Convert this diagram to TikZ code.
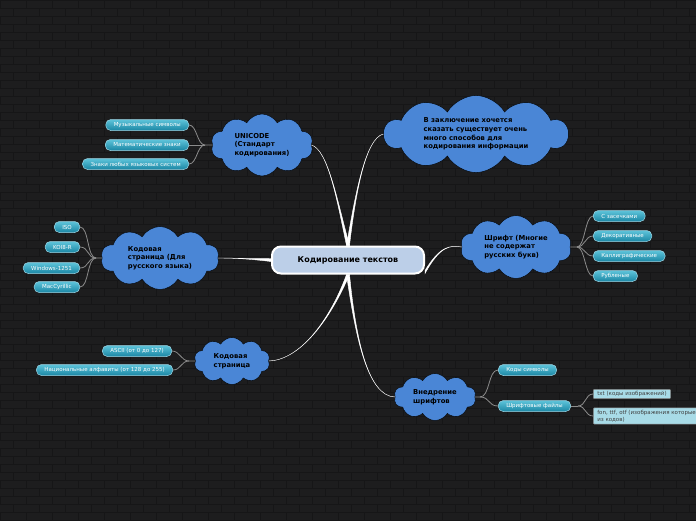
\documentclass[tikz,border=0pt]{standalone}
\usepackage{fontspec}
\setmainfont{DejaVu Sans}
\usetikzlibrary{shapes.symbols}
\definecolor{bgc}{HTML}{1D1D1E}
\definecolor{mortar}{HTML}{161617}
\definecolor{cloudc}{HTML}{4A86D6}
\definecolor{rootc}{HTML}{BCCFE8}
\definecolor{pilltop}{HTML}{5EC4DA}
\definecolor{pillbot}{HTML}{1A86A4}
\definecolor{pilledge}{HTML}{9ED6E6}
\definecolor{notec}{HTML}{A8DBE7}
\definecolor{twigc}{HTML}{8C8C8C}
\tikzset{
  root/.style={rectangle,draw=white,line width=2pt,fill=rootc,rounded corners=9pt,minimum width=152,minimum height=27,font=\fontsize{8}{9}\selectfont\bfseries},
  topic/.style={cloud,cloud puffs=10,cloud puff arc=120,draw=black,fill=cloudc,inner sep=0pt},
  topictext/.style={align=left,inner sep=0pt,font=\fontsize{6.8}{8.7}\selectfont\bfseries},
  leaf/.style={rectangle,rounded corners=5pt,draw=pilledge,line width=0.5pt,top color=pilltop,bottom color=pillbot,text=white,minimum height=11,inner xsep=8pt,inner ysep=0pt,font=\fontsize{5.5}{6}\selectfont},
  note/.style={rectangle,rounded corners=1pt,draw=gray,line width=0.5pt,fill=notec,text=black!75,align=left,inner xsep=4pt,inner ysep=2pt,font=\fontsize{5.5}{7}\selectfont},
  bough/.style={fill=white,draw=white,line width=0.4pt},
  twig/.style={draw=twigc,line width=0.8pt}
}
\begin{document}
\begin{tikzpicture}[x=1pt,y=-1pt]
\useasboundingbox (0,0) rectangle (696,520);
\fill[bgc] (0,0) rectangle (696,520);
\foreach \r in {0,...,65}{
  \draw[mortar,line width=0.8pt] (0,8*\r) -- (696,8*\r);
  \foreach \c in {0,...,27}{
    \draw[mortar,line width=0.8pt] ({26*\c+13*mod(\r,2)},8*\r) -- ++(0,8);
  }
}

\node at (348,260) [root] (root) {Кодирование текстов};
\node at (262,145) [topic,aspect=1.65,minimum width=102,minimum height=62,label={[topictext]center:UNICODE\\(Стандарт\\кодирования)}] (uni) {};
\node at (476,134) [topic,aspect=2.4,minimum width=184,minimum height=77,label={[topictext]center:В заключение хочется\\сказать существует очень\\много способов для\\кодирования информации}] (concl) {};
\node at (160,258) [topic,aspect=1.87,minimum width=118,minimum height=63,label={[topictext]center:Кодовая\\страница (Для\\русского языка)}] (cpru) {};
\node at (516,247) [topic,aspect=1.76,minimum width=111,minimum height=63,label={[topictext]center:Шрифт (Многие\\не содержат\\русских букв)}] (fnt) {};
\node at (232,361) [topic,aspect=1.6,minimum width=76,minimum height=47,label={[topictext]center:Кодовая\\страница}] (cp) {};
\node at (435,397) [topic,aspect=1.75,minimum width=82,minimum height=47,label={[topictext]center:Внедрение\\шрифтов}] (emb) {};

\fill[bough] ([xshift=-1.5pt]root.north) .. controls (337,200) and (328,150) .. (uni.east) .. controls (328,150) and (337,200) .. ([xshift=1.5pt]root.north) -- cycle;
\fill[bough] ([xshift=-1.5pt]root.north) .. controls (356,190) and (366,138) .. (concl.west) .. controls (366,138) and (356,190) .. ([xshift=1.5pt]root.north) -- cycle;
\fill[bough] ([yshift=-1.5pt]root.west) .. controls (250,259) and (235,258) .. (cpru.east) .. controls (235,258) and (250,259) .. ([yshift=1.5pt]root.west) -- cycle;
\fill[bough] ([yshift=-1.5pt,yshift=-12pt]root.east) .. controls (440,246) and (450,245) .. (fnt.west) .. controls (450,245) and (440,246) .. ([yshift=1.5pt,yshift=-12pt]root.east) -- cycle;
\fill[bough] ([xshift=-1.5pt]root.south) .. controls (330,320) and (300,360) .. (cp.east) .. controls (300,360) and (330,320) .. ([xshift=1.5pt]root.south) -- cycle;
\fill[bough] ([xshift=-1.5pt]root.south) .. controls (356,340) and (368,396) .. (emb.west) .. controls (368,396) and (356,340) .. ([xshift=1.5pt]root.south) -- cycle;

\node at (189,125) [leaf,anchor=east] (mus) {Музыкальные символы};
\node at (189,145) [leaf,anchor=east] (math) {Математические знаки};
\node at (189,164) [leaf,anchor=east] (lang) {Знаки любых языковых систем};
\coordinate (juuni) at (205,145);
\draw[twig] (uni.west) -- (juuni);
\draw[twig] (juuni) .. controls +(-8,0) and +(8,0) .. (mus.east);
\draw[twig] (juuni) -- (math.east);
\draw[twig] (juuni) .. controls +(-8,0) and +(8,0) .. (lang.east);

\node at (80,227) [leaf,anchor=east] (iso) {ISO};
\node at (80,247) [leaf,anchor=east] (koi) {KOI8-R};
\node at (80,268) [leaf,anchor=east] (win) {Windows-1251};
\node at (80,287) [leaf,anchor=east] (mac) {MacCyrillic};
\coordinate (jucpru) at (96,258);
\draw[twig] (cpru.west) -- (jucpru);
\draw[twig] (jucpru) .. controls +(-9,0) and +(9,0) .. (iso.east);
\draw[twig] (jucpru) .. controls +(-9,0) and +(9,0) .. (koi.east);
\draw[twig] (jucpru) .. controls +(-9,0) and +(9,0) .. (win.east);
\draw[twig] (jucpru) .. controls +(-9,0) and +(9,0) .. (mac.east);

\node at (172,351) [leaf,anchor=east] (ascii) {ASCII (от 0 до 127)};
\node at (173,370) [leaf,anchor=east] (nat) {Национальные алфавиты (от 128 до 255)};
\coordinate (jucp) at (189,361);
\draw[twig] (cp.west) -- (jucp);
\draw[twig] (jucp) .. controls +(-8,0) and +(8,0) .. (ascii.east);
\draw[twig] (jucp) .. controls +(-8,0) and +(8,0) .. (nat.east);

\node at (593,216) [leaf,anchor=west] (serif) {С засечками};
\node at (593,236) [leaf,anchor=west] (deco) {Декоративные};
\node at (593,256) [leaf,anchor=west] (calli) {Каллиграфические};
\node at (593,276) [leaf,anchor=west] (sans) {Рубленые};
\coordinate (jufnt) at (577,247);
\draw[twig] (fnt.east) -- (jufnt);
\draw[twig] (jufnt) .. controls +(8,0) and +(-8,0) .. (serif.west);
\draw[twig] (jufnt) .. controls +(8,0) and +(-8,0) .. (deco.west);
\draw[twig] (jufnt) .. controls +(8,0) and +(-8,0) .. (calli.west);
\draw[twig] (jufnt) .. controls +(8,0) and +(-8,0) .. (sans.west);

\node at (498,370) [leaf,anchor=west] (codes) {Коды символы};
\node at (498,406) [leaf,anchor=west] (files) {Шрифтовые файлы};
\coordinate (juemb) at (480,397);
\draw[twig] (emb.east) -- (juemb);
\draw[twig] (juemb) .. controls +(10,0) and +(-10,0) .. (codes.west);
\draw[twig] (juemb) .. controls +(10,0) and +(-10,0) .. (files.west);

\node at (593,394) [note,anchor=west] (txt) {txt (коды изображений)};
\node at (593,416) [note,anchor=west] (fon) {fon, ttf, otf (изображения которые\\из кодов)};
\coordinate (jufiles) at (578,406);
\draw[twig] (files.east) -- (jufiles);
\draw[twig] (jufiles) .. controls +(8,0) and +(-8,0) .. (txt.west);
\draw[twig] (jufiles) .. controls +(8,0) and +(-8,0) .. (fon.west);
\end{tikzpicture}
\end{document}
